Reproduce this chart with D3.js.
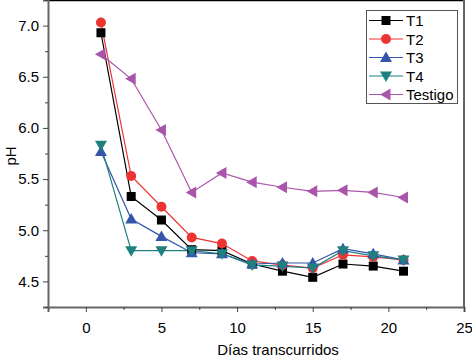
<!DOCTYPE html>
<html>
<head>
<meta charset="utf-8">
<script src="https://cdn.jsdelivr.net/npm/d3@7"></script>
<style>
  body { margin: 0; background: #fff; }
  text { font-family: "Liberation Sans", Arial, sans-serif; }
</style>
</head>
<body>
<div id="chart"></div>
<script>
// datos
const dias = [1, 3, 5, 7, 9, 11, 13, 15, 17, 19, 21];
const t1 = [6.93, 5.33, 5.10, 4.81, 4.80, 4.67, 4.60, 4.54, 4.67, 4.65, 4.60];
const t2 = [7.03, 5.53, 5.23, 4.93, 4.87, 4.70, 4.66, 4.63, 4.76, 4.74, 4.71];
const t3 = [5.77, 5.11, 4.94, 4.78, 4.77, 4.67, 4.68, 4.68, 4.82, 4.77, 4.71];
const t4 = [5.83, 4.80, 4.80, 4.80, 4.77, 4.66, 4.65, 4.63, 4.80, 4.75, 4.71];
const testigo = [6.72, 6.48, 5.98, 5.37, 5.56, 5.47, 5.42, 5.38, 5.39, 5.37, 5.32];

const nombres = ["T1", "T2", "T3", "T4", "Testigo"];
const colores = ["#000000", "#ee3333", "#3355aa", "#1f8080", "#aa55aa"];
const simbolos = ["square", "circle", "up", "down", "left"];
const valores = [t1, t2, t3, t4, testigo];

const width = 472, height = 360;
const margin = { top: 0, right: 8, bottom: 53, left: 48 };

const svg = d3.select("#chart").append("svg")
    .attr("width", width)
    .attr("height", height);

const x = d3.scaleLinear()
    .domain([-2.5, 25])
    .range([margin.left, width - margin.right]);

const y = d3.scaleLinear()
    .domain([4.25, 7.25])
    .range([height - margin.bottom, margin.top]);

// caja
svg.append("line")
    .attr("x1", x(-2.5)).attr("x2", x(25))
    .attr("y1", y(7.25) + 0.5).attr("y2", y(7.25) + 0.5)
    .style("stroke", "#000").style("stroke-width", 1.5);
svg.append("line")
    .attr("x1", x(25)).attr("x2", x(25))
    .attr("y1", y(7.25)).attr("y2", y(4.25))
    .style("stroke", "#666").style("stroke-width", 2);

// ejes
const ejeX = svg.append("g")
    .attr("transform", `translate(0,${y(4.25)})`)
    .call(d3.axisBottom(x).tickValues([0, 5, 10, 15, 20, 25]).tickSize(5).tickPadding(10).tickFormat(d3.format("d")));
svg.append("g")
    .attr("transform", `translate(0,${y(4.25)})`)
    .call(d3.axisBottom(x).tickValues([-2.5, 2.5, 7.5, 12.5, 17.5, 22.5]).tickSize(3).tickFormat(""))
    .select(".domain").remove();

const ejeY = svg.append("g")
    .attr("transform", `translate(${x(-2.5)},0)`)
    .call(d3.axisLeft(y).tickValues([4.5, 5.0, 5.5, 6.0, 6.5, 7.0]).tickSize(5).tickPadding(4).tickFormat(d3.format(".1f")));
svg.append("g")
    .attr("transform", `translate(${x(-2.5)},0)`)
    .call(d3.axisLeft(y).tickValues([4.25, 4.75, 5.25, 5.75, 6.25, 6.75, 7.25]).tickSize(3).tickFormat(""))
    .select(".domain").remove();

svg.selectAll(".domain").style("stroke", "#666").style("stroke-width", 2);
svg.selectAll(".tick line").style("stroke", "#444");
svg.selectAll(".tick text")
    .style("font-family", "Liberation Sans, Arial, sans-serif")
    .style("font-size", "15px")
    .style("fill", "#000");

// titulos
svg.append("text")
    .attr("x", 278)
    .attr("y", 355)
    .attr("text-anchor", "middle")
    .style("font-size", "15px")
    .text("Días transcurridos");

svg.append("text")
    .attr("transform", "translate(16,156) rotate(-90)")
    .attr("text-anchor", "middle")
    .style("font-size", "15px")
    .text("pH");

// simbolos
function marca(g, tipo, color) {
    if (tipo == "square") {
        g.append("rect").attr("x", -4.5).attr("y", -4.5).attr("width", 9).attr("height", 9).style("fill", color);
    } else if (tipo == "circle") {
        g.append("circle").attr("r", 5).style("fill", color);
    } else {
        const s = 6;
        let pts;
        if (tipo == "up") pts = [[0, -s], [s, s * 0.75], [-s, s * 0.75]];
        else if (tipo == "down") pts = [[0, s], [s, -s * 0.75], [-s, -s * 0.75]];
        else pts = [[-s, 0], [s * 0.75, -s], [s * 0.75, s]];
        g.append("polygon").attr("points", pts.map(p => p.join(",")).join(" ")).style("fill", color);
    }
}

const linea = d3.line()
    .x((d, i) => x(dias[i]))
    .y(d => y(d));

const plot = svg.append("g");

valores.forEach(function(serie, k) {
    plot.append("path")
        .datum(serie)
        .attr("d", linea)
        .style("fill", "none")
        .style("stroke", colores[k])
        .style("stroke-width", 1.2);
});

valores.forEach(function(serie, k) {
    serie.forEach(function(v, i) {
        const g = plot.append("g").attr("transform", `translate(${x(dias[i])},${y(v)})`);
        marca(g, simbolos[k], colores[k]);
    });
});

// leyenda
const leyenda = svg.append("g");
leyenda.append("rect")
    .attr("x", 366.5).attr("y", 10.5)
    .attr("width", 91).attr("height", 93)
    .style("fill", "#fff")
    .style("stroke", "#555")
    .style("stroke-width", 1);

nombres.forEach(function(n, k) {
    const yy = 20.5 + k * 18.5;
    leyenda.append("line")
        .attr("x1", 369).attr("x2", 403)
        .attr("y1", yy).attr("y2", yy)
        .style("stroke", colores[k])
        .style("stroke-width", 1.2);
    const g = leyenda.append("g").attr("transform", `translate(386,${yy})`);
    marca(g, simbolos[k], colores[k]);
    leyenda.append("text")
        .attr("x", 406)
        .attr("y", yy + 5.5)
        .style("font-size", "15px")
        .text(n);
});
</script>
</body>
</html>
